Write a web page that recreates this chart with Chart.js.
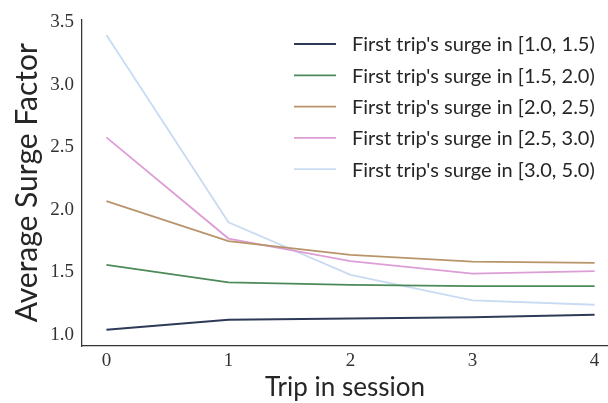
<!DOCTYPE html>
<html>
<head>
<meta charset="utf-8">
<script src="https://cdn.jsdelivr.net/npm/chart.js@4"></script>
<style>
  html, body { margin: 0; padding: 0; background: #fff; }
  #wrap { width: 608px; height: 403px; }
</style>
</head>
<body>
<div id="wrap"><canvas id="surge" width="608" height="403"></canvas></div>
<script>
// values
const trips = [0, 1, 2, 3, 4];
const surge10 = [1.04, 1.12, 1.13, 1.14, 1.16];
const surge15 = [1.56, 1.42, 1.40, 1.39, 1.39];
const surge20 = [2.07, 1.75, 1.64, 1.585, 1.575];
const surge25 = [2.58, 1.77, 1.59, 1.49, 1.51];
const surge30 = [3.40, 1.90, 1.48, 1.275, 1.24];
const seriesLabels = [
    "First trip's surge in [1.0, 1.5)",
    "First trip's surge in [1.5, 2.0)",
    "First trip's surge in [2.0, 2.5)",
    "First trip's surge in [2.5, 3.0)",
    "First trip's surge in [3.0, 5.0)"
];
const seriesColors = ['#2e3b58', '#4d8a59', '#b8946a', '#dd9ed6', '#c8dbf2'];
const xTicks = [0, 1, 2, 3, 4];
const yTicks = [1.0, 1.5, 2.0, 2.5, 3.0, 3.5];

const allSeries = [surge10, surge15, surge20, surge25, surge30];

// legend drawn inside the plot, top right
const innerLegend = {
    id: 'innerLegend',
    afterDraw(chart) {
        const ctx = chart.ctx;
        ctx.save();
        ctx.font = '20px Lato';
        ctx.textBaseline = 'middle';
        ctx.textAlign = 'left';
        chart.data.datasets.forEach(function(ds, i) {
            const y = 44 + i * 31.3;
            ctx.strokeStyle = ds.borderColor;
            ctx.lineWidth = 1.8;
            ctx.beginPath();
            ctx.moveTo(294, y);
            ctx.lineTo(336, y);
            ctx.stroke();
            ctx.fillStyle = '#262626';
            ctx.fillText(ds.label, 352, y + 1);
        });
        ctx.restore();
    }
};

const datasets = allSeries.map(function(vals, i) {
    return {
        label: seriesLabels[i],
        data: trips.map(function(t, j) { return { x: t, y: vals[j] }; }),
        borderColor: seriesColors[i],
        backgroundColor: seriesColors[i],
        borderWidth: 1.8,
        pointRadius: 0,
        tension: 0,
        fill: false
    };
});

new Chart(document.getElementById('surge'), {
    type: 'line',
    data: { datasets: datasets },
    options: {
        responsive: false,
        animation: false,
        layout: { padding: { top: 16, right: 0, left: 0, bottom: 0 } },
        plugins: {
            legend: { display: false },
            tooltip: { enabled: false }
        },
        scales: {
            x: {
                type: 'linear',
                min: -0.2,
                max: 4.11,
                afterFit: function(scale) { scale.height = 57; },
                afterBuildTicks: function(scale) {
                    scale.ticks = xTicks.map(function(v) { return { value: v }; });
                },
                grid: { display: false, drawTicks: false },
                border: { display: true, color: '#333333', width: 1.25 },
                ticks: {
                    padding: 4,
                    color: '#333333',
                    font: { family: 'Liberation Serif', size: 19 },
                    callback: function(v) { return String(v); }
                },
                title: {
                    display: true,
                    text: 'Trip in session',
                    color: '#262626',
                    font: { family: 'Lato', size: 26 },
                    padding: { top: 0, bottom: 0 }
                }
            },
            y: {
                min: 0.91,
                max: 3.524,
                afterFit: function(scale) { scale.width = 82; },
                afterBuildTicks: function(scale) {
                    scale.ticks = yTicks.map(function(v) { return { value: v }; });
                },
                grid: { display: false, drawTicks: false },
                border: { display: true, color: '#333333', width: 1.25 },
                ticks: {
                    padding: 8,
                    color: '#333333',
                    font: { family: 'Liberation Serif', size: 19 },
                    callback: function(v) { return v.toFixed(1); }
                },
                title: {
                    display: true,
                    text: 'Average Surge Factor',
                    color: '#262626',
                    font: { family: 'Lato', size: 30 },
                    padding: { top: 9, bottom: 0 }
                }
            }
        }
    },
    plugins: [innerLegend]
});
</script>
</body>
</html>
